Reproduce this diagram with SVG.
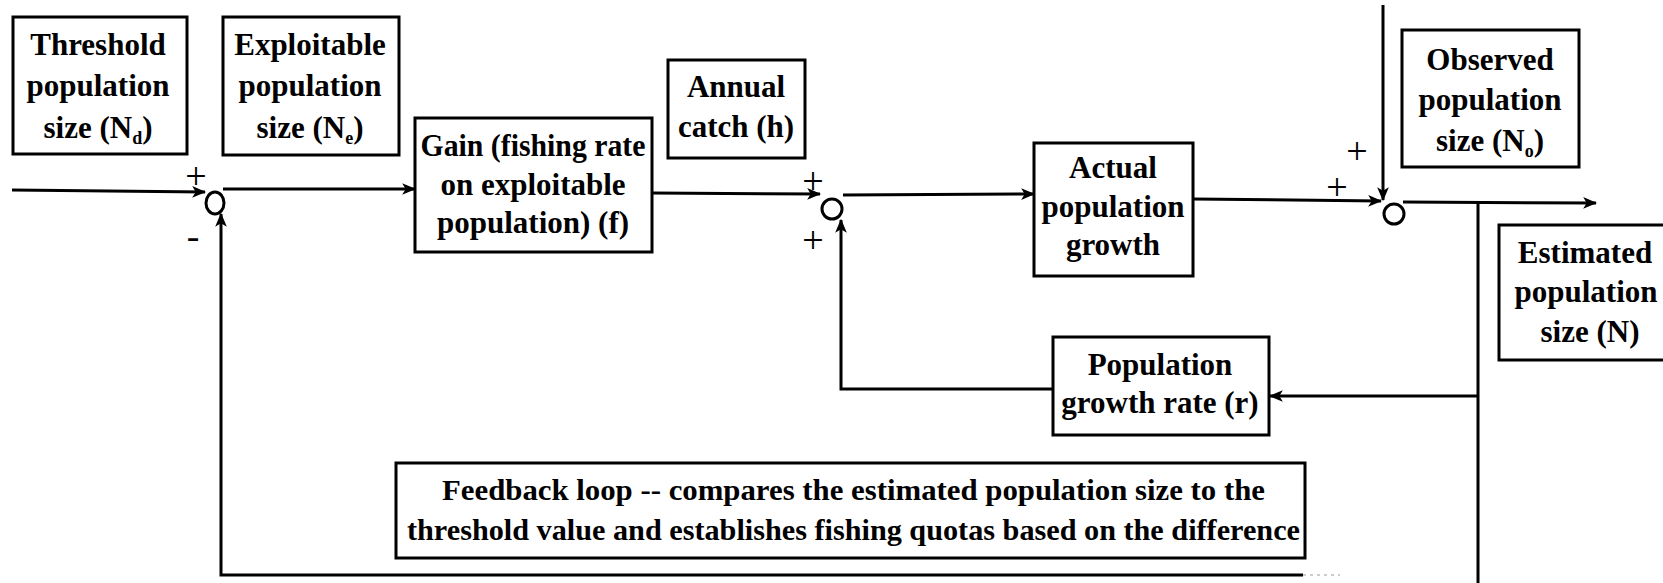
<svg xmlns="http://www.w3.org/2000/svg" width="1663" height="583" viewBox="0 0 1663 583" font-family="Liberation Serif, Times New Roman, serif">
<style>
.box{fill:#fff;stroke:#000;stroke-width:3}
.t{font-size:31px;font-weight:bold;fill:#000;text-anchor:middle}
.ft{font-size:30px;font-weight:bold;fill:#000}
.sg{font-size:38px;fill:#000;text-anchor:middle}
.ln{fill:none;stroke:#000;stroke-width:3}
.ar{fill:none;stroke:#000;stroke-width:3;marker-end:url(#ah)}
.jn{fill:none;stroke:#000;stroke-width:3}
.sub{font-size:18px}
</style>
<defs>
<marker id="ah" viewBox="0 0 12 10" refX="11" refY="5" markerWidth="14" markerHeight="12" markerUnits="userSpaceOnUse" orient="auto">
<path d="M0,0 L12,5 L0,10 L3,5 Z" fill="#000"/>
</marker>
</defs>
<rect width="1663" height="583" fill="#fff"/>

<g id="connectors">
<line class="ar" x1="12" y1="190" x2="205" y2="192"/>
<line class="ar" x1="223" y1="189" x2="415" y2="189"/>
<line class="ar" x1="652" y1="193" x2="820" y2="194"/>
<line class="ar" x1="843" y1="195" x2="1034" y2="194"/>
<line class="ar" x1="1193" y1="199" x2="1381" y2="201"/>
<line class="ar" x1="1383" y1="5" x2="1383" y2="200"/>
<line class="ar" x1="1403" y1="202" x2="1596" y2="203"/>
<line class="ln" x1="1478" y1="202" x2="1478" y2="583"/>
<line class="ar" x1="1478" y1="396" x2="1270" y2="396"/>
<polyline class="ar" points="1053,389 841,389 841,220"/>
<polyline class="ar" points="1303,575 221,575 221,214"/>
<line x1="1303" y1="575" x2="1340" y2="575" stroke="#ccc" stroke-width="2" stroke-dasharray="3 4"/>
</g>

<g id="junction1">
<ellipse class="jn" cx="215" cy="203" rx="9" ry="11"/>
<text class="sg" x="196" y="189">+</text>
<text class="sg" x="193" y="249">-</text>
</g>
<g id="junction2">
<circle class="jn" cx="832" cy="209" r="10"/>
<text class="sg" x="813" y="194">+</text>
<text class="sg" x="813" y="253">+</text>
</g>
<g id="junction3">
<circle class="jn" cx="1394" cy="214" r="10"/>
<text class="sg" x="1357" y="164">+</text>
<text class="sg" x="1337" y="200">+</text>
</g>

<g id="threshold">
<rect class="box" x="13" y="17" width="174" height="137"/>
<text class="t" x="98" y="55">Threshold</text>
<text class="t" x="98" y="96">population</text>
<text class="t" x="98" y="138">size (N<tspan class="sub" dy="6">d</tspan><tspan dy="-6">)</tspan></text>
</g>
<g id="exploitable">
<rect class="box" x="223" y="17" width="176" height="138"/>
<text class="t" x="310" y="55">Exploitable</text>
<text class="t" x="310" y="96">population</text>
<text class="t" x="310" y="138">size (N<tspan class="sub" dy="6">e</tspan><tspan dy="-6">)</tspan></text>
</g>
<g id="gain">
<rect class="box" x="415" y="118" width="237" height="134"/>
<text class="t" x="533" y="156" textLength="225" lengthAdjust="spacingAndGlyphs">Gain (fishing rate</text>
<text class="t" x="533" y="195">on exploitable</text>
<text class="t" x="533" y="233">population) (f)</text>
</g>
<g id="annual">
<rect class="box" x="668" y="60" width="137" height="98"/>
<text class="t" x="736" y="97">Annual</text>
<text class="t" x="736" y="137">catch (h)</text>
</g>
<g id="actual">
<rect class="box" x="1034" y="143" width="159" height="133"/>
<text class="t" x="1113" y="178">Actual</text>
<text class="t" x="1113" y="217">population</text>
<text class="t" x="1113" y="255">growth</text>
</g>
<g id="observed">
<rect class="box" x="1402" y="30" width="177" height="137"/>
<text class="t" x="1490" y="70">Observed</text>
<text class="t" x="1490" y="110">population</text>
<text class="t" x="1490" y="151">size (N<tspan class="sub" dy="6">o</tspan><tspan dy="-6">)</tspan></text>
</g>
<g id="estimated">
<rect class="box" x="1499" y="225" width="170" height="135"/>
<text class="t" x="1585" y="263">Estimated</text>
<text class="t" x="1586" y="302">population</text>
<text class="t" x="1590" y="342">size (N)</text>
</g>
<g id="growthrate">
<rect class="box" x="1053" y="337" width="216" height="98"/>
<text class="t" x="1160" y="375">Population</text>
<text class="t" x="1160" y="413">growth rate (r)</text>
</g>
<g id="feedback">
<rect class="box" x="396" y="463" width="909" height="95"/>
<text class="ft" x="442" y="500" textLength="823" lengthAdjust="spacingAndGlyphs">Feedback loop -- compares the estimated population size to the</text>
<text class="ft" x="407" y="540" textLength="893" lengthAdjust="spacingAndGlyphs">threshold value and establishes fishing quotas based on the difference</text>
</g>
</svg>
